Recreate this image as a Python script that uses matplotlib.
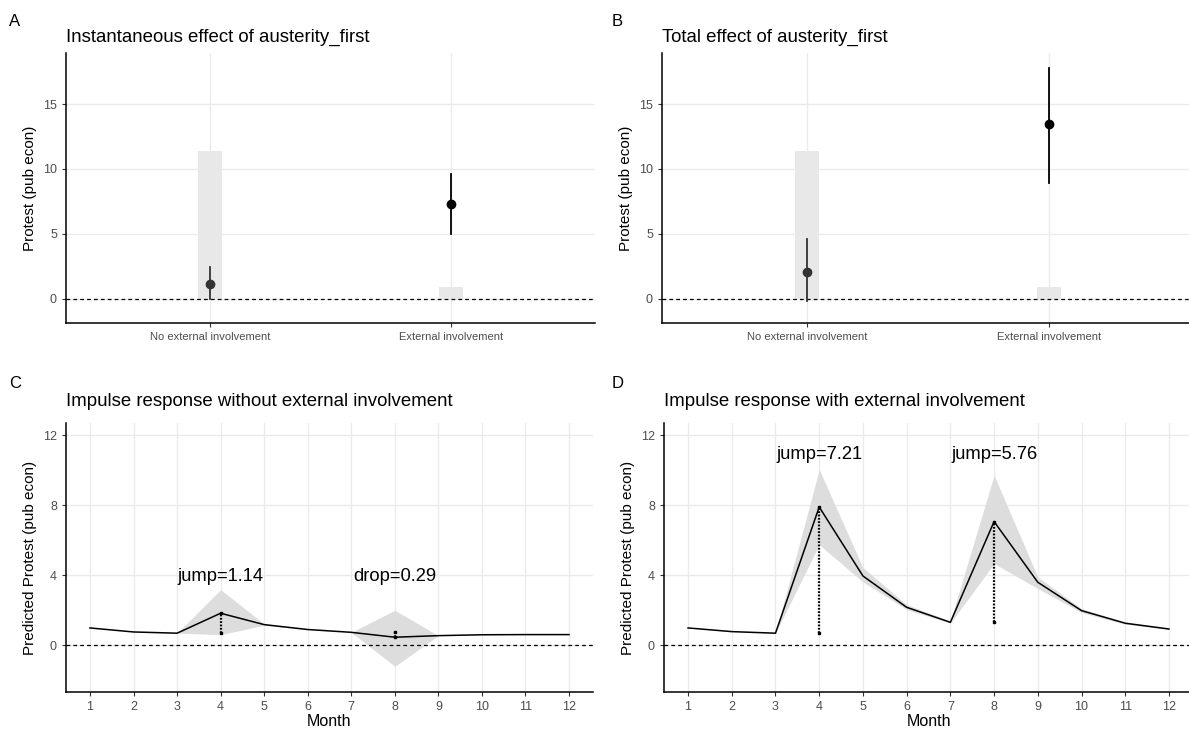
import matplotlib
matplotlib.use("Agg")
import matplotlib.pyplot as plt

plt.rcParams['font.family'] = ['Liberation Sans', 'DejaVu Sans']

# panels A / B: effect estimates by group
groups = ['No external involvement', 'External involvement']
group_share = [11.39, 0.88]          # grey background bars
inst_est = [1.13, 7.27]
inst_lo = [-0.05, 4.95]
inst_hi = [2.42, 9.59]
total_est = [2.09, 13.45]
total_lo = [-0.15, 8.94]
total_hi = [4.59, 17.81]
point_colors = ['#333333', 'black']

# panels C / D: impulse responses
months = [1, 2, 3, 4, 5, 6, 7, 8, 9, 10, 11, 12]
resp_no = [0.99, 0.76, 0.69, 1.83, 1.18, 0.90, 0.74, 0.46, 0.55, 0.60, 0.61, 0.61]
resp_no_lo = [0.99, 0.76, 0.69, 0.61, 1.14, 0.90, 0.74, -1.20, 0.55, 0.60, 0.61, 0.61]
resp_no_hi = [0.99, 0.76, 0.69, 3.18, 1.22, 0.90, 0.74, 2.00, 0.55, 0.60, 0.61, 0.61]
resp_ext = [0.99, 0.78, 0.69, 7.90, 3.96, 2.17, 1.31, 7.07, 3.60, 1.98, 1.26, 0.93]
resp_ext_lo = [0.99, 0.78, 0.69, 5.75, 3.62, 2.04, 1.27, 4.67, 3.24, 1.87, 1.20, 0.90]
resp_ext_hi = [0.99, 0.78, 0.69, 10.04, 4.44, 2.32, 1.40, 9.71, 3.90, 2.10, 1.32, 0.96]
labels_no = ['jump=1.14', 'drop=0.29']
labels_ext = ['jump=7.21', 'jump=5.76']
shock_months = [4, 8]

W, H = 1189, 733
fig = plt.figure(figsize=(W / 100, H / 100), dpi=100)


def px_axes(left, top, right, bottom):
    return fig.add_axes([left / W, 1 - bottom / H, (right - left) / W, (bottom - top) / H])


def style(ax):
    for s in ['top', 'right']:
        ax.spines[s].set_visible(False)
    for s in ['left', 'bottom']:
        ax.spines[s].set_linewidth(1.1)
        ax.spines[s].set_color('black')
    ax.grid(True, color='#EBEBEB', lw=1.0)
    ax.set_axisbelow(True)
    ax.tick_params(colors='#333333', labelcolor='#4D4D4D', labelsize=9, length=3, width=0.8)
    ax.axhline(0, color='black', lw=0.9, ls=(0, (3, 2.5)), zorder=3)


def effect_panel(ax, est, lo, hi, title, letter, lx, tx):
    style(ax)
    pos = [1, 2]
    ax.bar(pos, group_share, width=0.1, color='#E8E8E8', zorder=1)
    for i in range(2):
        ax.plot([pos[i], pos[i]], [lo[i], hi[i]], color=point_colors[i], lw=1.3, zorder=4)
        ax.plot(pos[i], est[i], 'o', color=point_colors[i], ms=6, zorder=5)
    ax.set_xlim(0.4, 2.6)
    ax.set_ylim(-1.88, 18.94)
    ax.set_xticks(pos)
    ax.set_xticklabels(groups, fontsize=8)
    ax.set_yticks([0, 5, 10, 15])
    ax.set_ylabel('Protest (pub econ)', fontsize=11, color='black', labelpad=4)
    fig.text(lx / W, 1 - 21 / H, letter, fontsize=12, va='center')
    fig.text(tx / W, 1 - 37 / H, title, fontsize=13.4, va='center')


def response_panel(ax, y, lo, hi, labels, label_y, title, letter, lx, tx):
    style(ax)
    ax.fill_between(months, lo, hi, color='#DDDDDD', lw=0, zorder=2)
    ax.plot(months, y, color='black', lw=1.1, zorder=4)
    for m, lab in zip(shock_months, labels):
        y0 = y[m - 2]
        y1 = y[m - 1]
        ax.plot([m, m], [y0, y1], color='black', lw=1.6, ls=(0, (0.8, 0.7)), zorder=5)
        ax.plot([m, m], [y0, y1], 's', color='black', ms=2, zorder=5)
        ax.text(m, label_y, lab, fontsize=13.2, ha='center', va='center')
    ax.set_xlim(0.45, 12.55)
    ax.set_ylim(-2.67, 12.7)
    ax.set_xticks(months)
    ax.set_yticks([0, 4, 8, 12])
    ax.set_xlabel('Month', fontsize=11.5, color='black', labelpad=1)
    ax.set_ylabel('Predicted Protest (pub econ)', fontsize=11, color='black', labelpad=4)
    fig.text(lx / W, 1 - 384 / H, letter, fontsize=12, va='center')
    fig.text(tx / W, 1 - 402 / H, title, fontsize=13.4, va='center')


axA = px_axes(66, 53, 595, 323)
axB = px_axes(662, 53, 1194, 323)
axC = px_axes(66, 423, 593, 692)
axD = px_axes(664, 423, 1193, 692)

effect_panel(axA, inst_est, inst_lo, inst_hi, 'Instantaneous effect of austerity_first', 'A', 9, 66)
effect_panel(axB, total_est, total_lo, total_hi, 'Total effect of austerity_first', 'B', 612, 662)
response_panel(axC, resp_no, resp_no_lo, resp_no_hi, labels_no, 3.95,
               'Impulse response without external involvement', 'C', 9, 66)
response_panel(axD, resp_ext, resp_ext_lo, resp_ext_hi, labels_ext, 10.9,
               'Impulse response with external involvement', 'D', 612, 664)

fig.savefig('out.png', dpi=100)
